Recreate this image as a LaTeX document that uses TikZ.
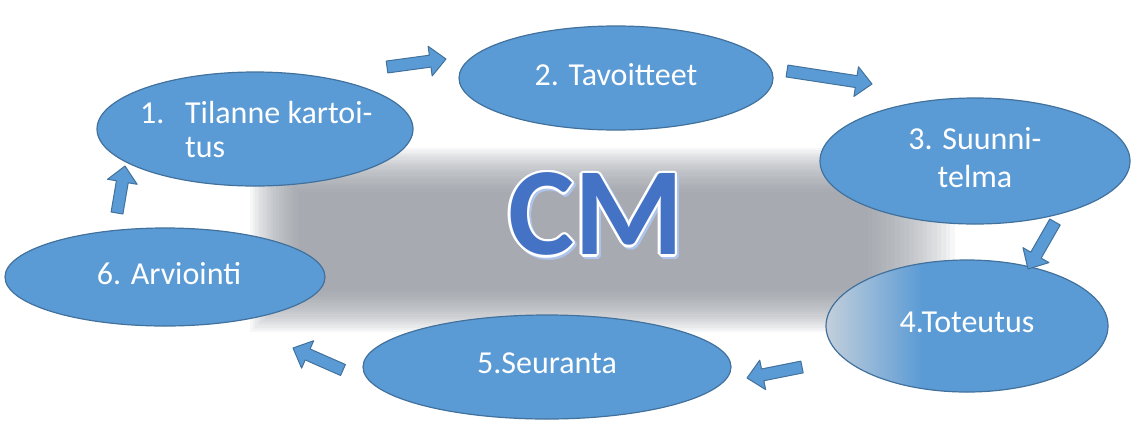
\documentclass[tikz,border=0pt]{standalone}
\usepackage{fontspec}
\setmainfont{Carlito}
\usepackage{tikz}
\usetikzlibrary{calc}
\usetikzlibrary{positioning, shapes.geometric}
\definecolor{cycBlue}{HTML}{5B9BD5}
\definecolor{cycEdge}{HTML}{41719C}
\definecolor{cmBlue}{HTML}{4472C4}
\definecolor{cmShadow}{HTML}{AFC4EA}
\definecolor{bgGrey}{HTML}{8C9199}
\definecolor{fadeGrey}{HTML}{C3CFDB}
\pgfdeclarehorizontalshading{fadeLeft}{100bp}{color(0bp)=(fadeGrey); color(25bp)=(fadeGrey); color(42bp)=(cycBlue); color(100bp)=(cycBlue)}
\tikzset{
  phase/.style={ellipse, fill=cycBlue, draw=cycEdge, line width=1.2pt, inner sep=0pt,
    text=white, font=\fontsize{32}{38}\selectfont, align=center, text depth=7pt},
  phasetext/.style={inner sep=0pt, text=white, font=\fontsize{32}{34}\selectfont},
  cmtext/.style={inner sep=0pt, font=\fontsize{125}{125}\selectfont\bfseries},
  blockarrow/.style={fill=cycBlue, draw=cycEdge, line width=1pt, line join=round,
    to path={($(\tikztostart)!6pt!90:(\tikztotarget)$)
      -- ($(\tikztotarget)!16pt!(\tikztostart)!6pt!90:(\tikztotarget)$)
      -- ($(\tikztotarget)!16pt!(\tikztostart)!15pt!90:(\tikztotarget)$)
      -- (\tikztotarget)
      -- ($(\tikztotarget)!16pt!(\tikztostart)!15pt!-90:(\tikztotarget)$)
      -- ($(\tikztotarget)!16pt!(\tikztostart)!6pt!-90:(\tikztotarget)$)
      -- ($(\tikztostart)!6pt!-90:(\tikztotarget)$) -- cycle}}
}
\begin{document}
\begin{tikzpicture}[x=1pt,y=-1pt]
        \useasboundingbox (0,0) rectangle (1134,421);
        % blurred grey backdrop
        \foreach \k in {0,...,19}
          \fill[bgGrey, opacity=0.07] (250+2.6*\k,148+2.3*\k) rectangle (955-4.6*\k,332-2.2*\k);

        \node[phase, minimum width=316pt, minimum height=114pt] (kartoitus) at (255,129) {};
        \node[phasetext, align=left, anchor=north west] (kartoitusText) at (140,101)
          {\makebox[45pt][l]{1.}Tilanne kartoi-\\\hspace*{45pt}tus};
        \node[phase, minimum width=314pt, minimum height=104pt] (tavoitteet) at (616,78) {2. Tavoitteet};
        \node[phase, minimum width=310pt, minimum height=126pt] (suunnitelma) at (975,161) {3. Suunni-\\telma};
        \node[phase, shade, shading=fadeLeft, minimum width=282pt, minimum height=132pt] (toteutus) at (967,326) {4.Toteutus};
        \node[phase, minimum width=368pt, minimum height=104pt] (seuranta) at (547,367) {5.Seuranta};
        \node[phase, minimum width=320pt, minimum height=98pt] (arviointi) at (165,277) {\hspace*{8pt}6. Arviointi};

        % CM with rim and shadow
        \foreach \a in {0,30,...,330}
          \node[cmtext, text=cmShadow] (cmshade\a) at ($(596,214)+(2pt,-2pt)+(\a:2.5pt)$) {CM};
        \foreach \a in {0,30,...,330}
          \node[cmtext, text=white] (cmrim\a) at ($(596,214)+(\a:2.5pt)$) {CM};
        \node[cmtext, text=cmBlue] (cm) at (596,214) {CM};

        % block arrows
        \coordinate (a1) at (387,67);   \coordinate (b1) at (446,59);
        \coordinate (a2) at (787,71);   \coordinate (b2) at (872,84);
        \coordinate (a3) at (1055,222); \coordinate (b3) at (1028,269);
        \coordinate (a4) at (802,367);  \coordinate (b4) at (747,378);
        \coordinate (a5) at (343,370);  \coordinate (b5) at (293,348);
        \coordinate (a6) at (117,213);  \coordinate (b6) at (125,166);
        \foreach \i in {1,...,6}
          \draw[blockarrow] (a\i) to (b\i);
      \end{tikzpicture}
\end{document}
